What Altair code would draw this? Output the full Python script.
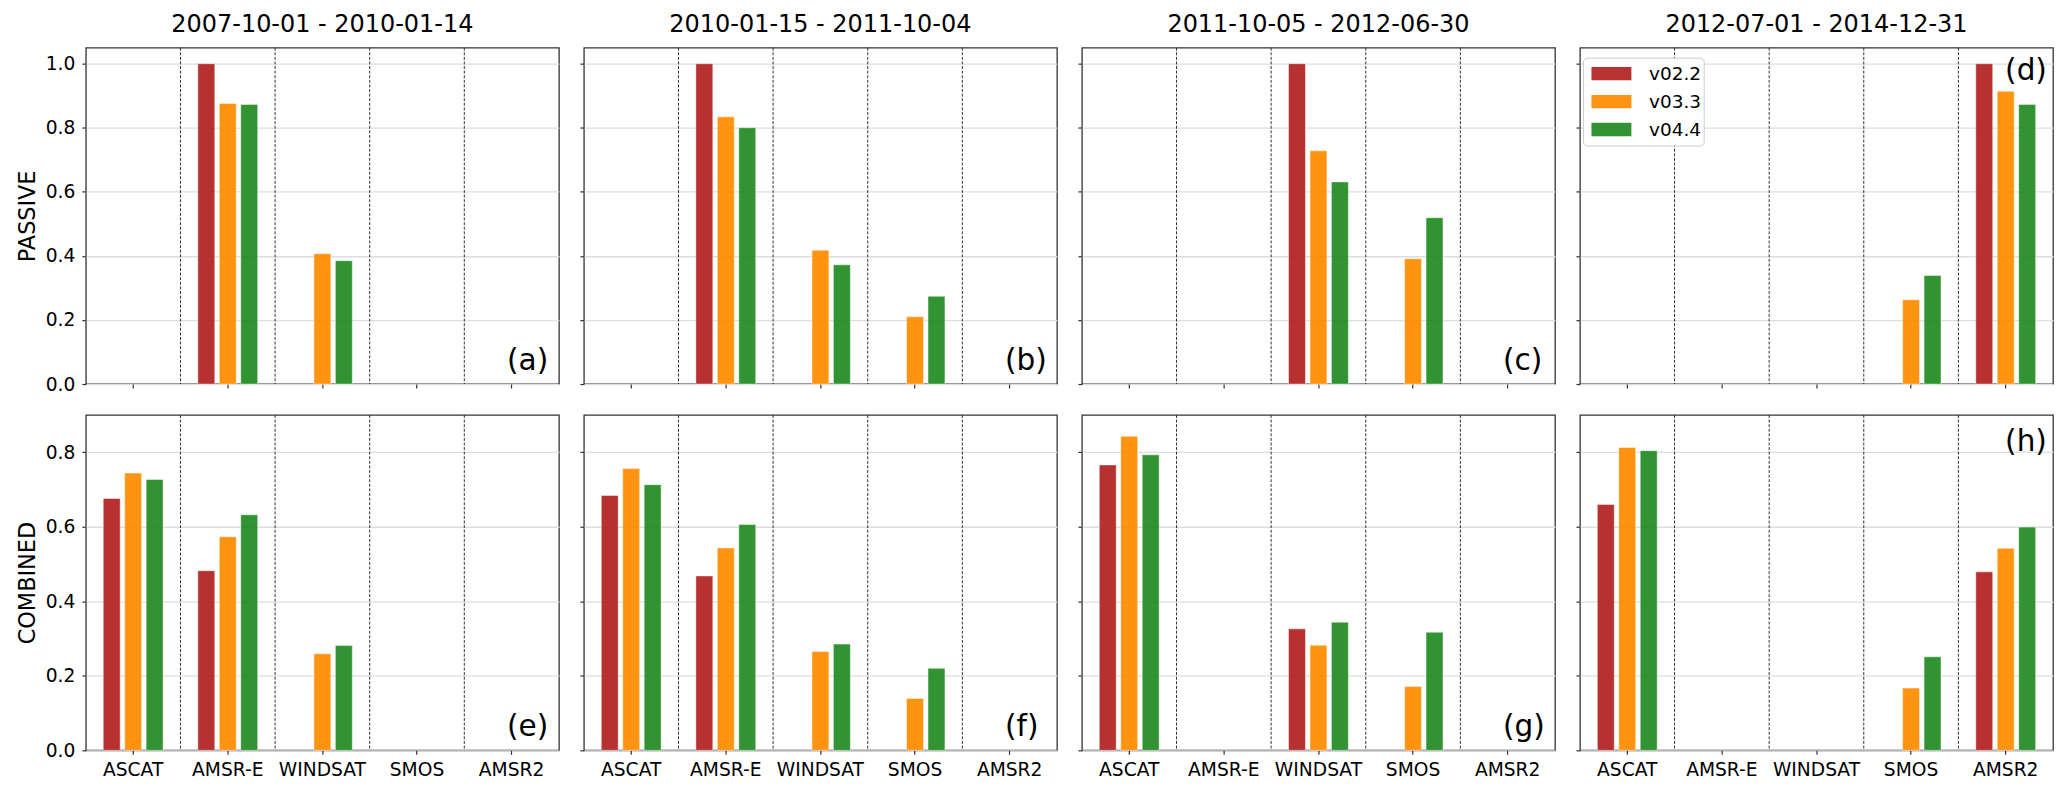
import altair as alt
import pandas as pd

SENSORS = ["ASCAT", "AMSR-E", "WINDSAT", "SMOS", "AMSR2"]
VERSIONS = ["v02.2", "v03.3", "v04.4"]
COLORS = ["#B22222", "#FF8C00", "#228B22"]
PERIODS = ["2007-10-01 - 2010-01-14", "2010-01-15 - 2011-10-04",
           "2011-10-05 - 2012-06-30", "2012-07-01 - 2014-12-31"]
LETTERS_TOP = ["(a)", "(b)", "(c)", "(d)"]
LETTERS_BOTTOM = ["(e)", "(f)", "(g)", "(h)"]

# values per panel: one list per version (v02.2, v03.3, v04.4), ordered like SENSORS
PASSIVE_A = [[None, 1.000, None, None, None],
             [None, 0.876, 0.407, None, None],
             [None, 0.873, 0.385, None, None]]
PASSIVE_B = [[None, 1.000, None, None, None],
             [None, 0.834, 0.418, 0.210, None],
             [None, 0.800, 0.372, 0.274, None]]
PASSIVE_C = [[None, None, 1.000, None, None],
             [None, None, 0.728, 0.391, None],
             [None, None, 0.631, 0.519, None]]
PASSIVE_D = [[None, None, None, None, 1.000],
             [None, None, None, 0.263, 0.914],
             [None, None, None, 0.339, 0.873]]
COMBINED_E = [[0.676, 0.482, None, None, None],
              [0.744, 0.573, 0.259, None, None],
              [0.727, 0.632, 0.281, None, None]]
COMBINED_F = [[0.684, 0.468, None, None, None],
              [0.756, 0.543, 0.265, 0.139, None],
              [0.713, 0.606, 0.285, 0.220, None]]
COMBINED_G = [[0.766, None, 0.326, None, None],
              [0.843, None, 0.282, 0.171, None],
              [0.793, None, 0.344, 0.317, None]]
COMBINED_H = [[0.660, None, None, None, 0.479],
              [0.813, None, None, 0.167, 0.542],
              [0.804, None, None, 0.251, 0.599]]

PANEL_W = 474
FONT = "DejaVu Sans"


def panel(vals, letter, row, col):
    recs = []
    for vi, v in enumerate(VERSIONS):
        for si, s in enumerate(SENSORS):
            if vals[vi][si] is not None:
                recs.append({"sensor": s, "version": v, "value": vals[vi][si]})
    df = pd.DataFrame(recs)
    top = row == 0
    h = 337 if top else 336
    ymax = 1.05 if top else 0.9
    ticks = [0.0, 0.2, 0.4, 0.6, 0.8, 1.0] if top else [0.0, 0.2, 0.4, 0.6, 0.8]

    xscale = alt.Scale(domain=SENSORS, paddingInner=0, paddingOuter=0)
    xaxis = alt.Axis(labels=not top, title=None, domain=False, ticks=True,
                     tickSize=4, tickColor="#333333", tickWidth=1.2,
                     labelAngle=0, labelFontSize=18.7, labelPadding=6,
                     labelColor="black", labelFont=FONT, grid=False)
    ytitle = ("PASSIVE" if top else "COMBINED") if col == 0 else None
    yaxis = alt.Axis(values=ticks, format=".1f", labels=col == 0, title=ytitle,
                     domain=False, ticks=True, tickSize=4, tickColor="#333333",
                     tickWidth=1.2, labelFontSize=18.7, labelPadding=7,
                     labelColor="black", labelFont=FONT, titleFont=FONT,
                     titleFontSize=22.4, titleFontWeight="normal",
                     titleColor="black", titlePadding=6,
                     grid=True, gridColor="#dedede", gridWidth=1.3)

    if top and col == 3:
        legend = alt.Legend(orient="none", legendX=3, legendY=10, title=None,
                            symbolType="M-3,-1L3,-1L3,1L-3,1Z",
                            symbolSize=178, symbolStrokeWidth=0,
                            symbolOffset=17.3, symbolOpacity=0.93,
                            labelFontSize=18.5, labelFont=FONT,
                            labelColor="black", labelOffset=28.4,
                            fillColor="white", strokeColor="#cccccc",
                            cornerRadius=4, padding=2, rowPadding=0,
                            clipHeight=28)
        color = alt.Color("version:N", scale=alt.Scale(domain=VERSIONS, range=COLORS),
                          legend=legend)
    else:
        color = alt.Color("version:N", scale=alt.Scale(domain=VERSIONS, range=COLORS),
                          legend=None)

    bars = alt.Chart(df).mark_bar(opacity=0.93, stroke="white", strokeWidth=0.8,
                                  strokeOpacity=0.6).encode(
        x=alt.X("sensor:N", scale=xscale, axis=xaxis, sort=SENSORS),
        xOffset=alt.XOffset("version:N", sort=VERSIONS,
                            scale=alt.Scale(domain=VERSIONS, paddingInner=0.21,
                                            paddingOuter=0.81)),
        y=alt.Y("value:Q", scale=alt.Scale(domain=[0, ymax], nice=False), axis=yaxis),
        color=color,
    )

    sep = pd.DataFrame({"sensor": SENSORS[1:]})
    rules = alt.Chart(sep).mark_rule(strokeDash=[3, 1.6], color="#333333",
                                     strokeWidth=1).encode(
        x=alt.X("sensor:N", bandPosition=0, scale=xscale, sort=SENSORS),
    )

    if letter in ("(d)", "(h)"):
        lx = PANEL_W - 48
        ly = 32 if letter == "(d)" else 36
    else:
        lx = PANEL_W - 52
        ly = h - 14
    lab = alt.Chart(pd.DataFrame({"t": [letter]})).mark_text(
        fontSize=29.6, align="left", baseline="alphabetic", color="black", font=FONT
    ).encode(text="t:N", x=alt.value(lx), y=alt.value(ly))

    layer = alt.layer(bars, rules, lab)
    if top:
        layer = layer.properties(
            width=PANEL_W, height=h,
            title=alt.TitleParams(PERIODS[col], fontSize=24, font=FONT,
                                  fontWeight="normal", color="black",
                                  anchor="middle", offset=-9,
                                  baseline="alphabetic"))
    else:
        layer = layer.properties(width=PANEL_W, height=h)
    return layer


top_vals = [PASSIVE_A, PASSIVE_B, PASSIVE_C, PASSIVE_D]
bot_vals = [COMBINED_E, COMBINED_F, COMBINED_G, COMBINED_H]

row1 = alt.hconcat(*[panel(v, LETTERS_TOP[i], 0, i) for i, v in enumerate(top_vals)],
                   spacing=18).resolve_scale(color="independent").resolve_legend(color="independent")
row2 = alt.hconcat(*[panel(v, LETTERS_BOTTOM[i], 1, i) for i, v in enumerate(bot_vals)],
                   spacing=18).resolve_scale(color="independent").resolve_legend(color="independent")

chart = alt.vconcat(row1, row2, spacing=18).resolve_scale(
    color="independent").resolve_legend(color="independent").properties(
    padding={"left": 7, "top": 3, "right": 5, "bottom": 5}
).configure(font=FONT).configure_view(stroke="#333333", strokeWidth=1.3)

chart.save("out.html", embed_options={"renderer": "svg", "actions": False})
